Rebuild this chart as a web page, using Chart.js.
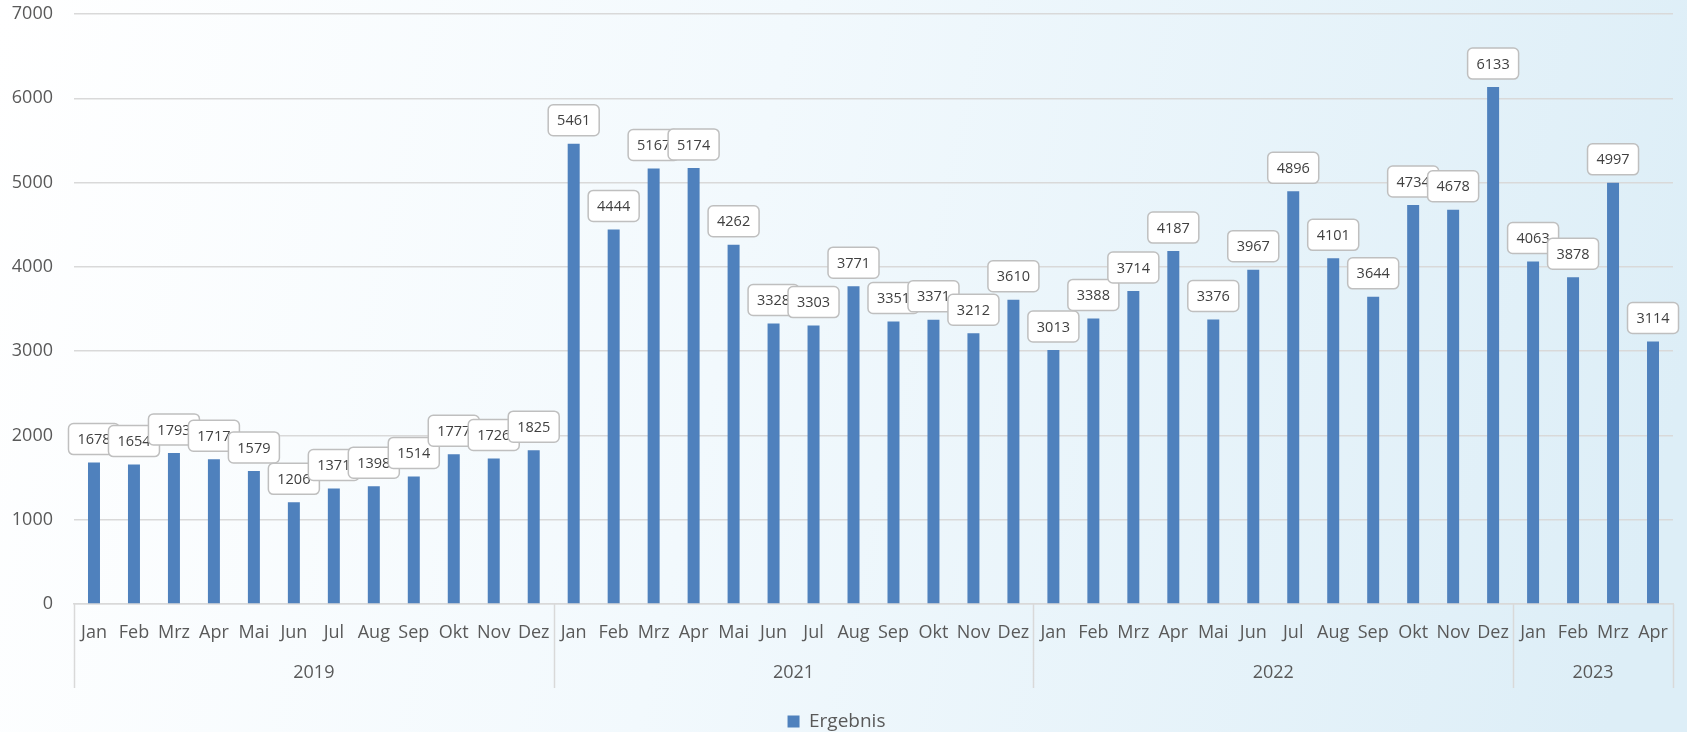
<!DOCTYPE html>
<html>
<head>
<meta charset="utf-8">
<script src="https://cdn.jsdelivr.net/npm/chart.js@4.4.0/dist/chart.umd.min.js"></script>
<style>
  html, body { margin: 0; padding: 0; background: #fff; }
  #wrap { width: 1687px; height: 732px; }
</style>
</head>
<body>
<div id="wrap"><canvas id="chart" width="1687" height="732"></canvas></div>
<script>
// months and years (category axis has two levels)
const months = ["Jan","Feb","Mrz","Apr","Mai","Jun","Jul","Aug","Sep","Okt","Nov","Dez"];
const years = ["2019", "2021", "2022", "2023"];
const monthsPerYear = [12, 12, 12, 4];

const values2019 = [1678, 1654, 1793, 1717, 1579, 1206, 1371, 1398, 1514, 1777, 1726, 1825];
const values2021 = [5461, 4444, 5167, 5174, 4262, 3328, 3303, 3771, 3351, 3371, 3212, 3610];
const values2022 = [3013, 3388, 3714, 4187, 3376, 3967, 4896, 4101, 3644, 4734, 4678, 6133];
const values2023 = [4063, 3878, 4997, 3114];

const yTicks = [0, 1000, 2000, 3000, 4000, 5000, 6000, 7000];

let labels = [];
monthsPerYear.forEach(n => { labels = labels.concat(months.slice(0, n)); });
const values = [].concat(values2019, values2021, values2022, values2023);

const font = "'Open Sans', 'Noto Sans', sans-serif";
const textColor = "#595959";
const gridColor = "#d9d9d9";
const axisBottom = 604;
const padBottom = -9;

// background gradient
const bgPlugin = {
  id: 'bg',
  beforeDraw(chart) {
    const c = chart.ctx;
    const g = c.createLinearGradient(0, 0, chart.width, chart.height * 0.5);
    g.addColorStop(0, '#ffffff');
    g.addColorStop(0.45, '#f2f9fd');
    g.addColorStop(1, '#ddeef7');
    c.save();
    c.fillStyle = g;
    c.fillRect(0, 0, chart.width, chart.height);
    c.restore();
  }
};

// year row + separators under the month labels
const groupAxis = {
  id: 'groupAxis',
  afterDraw(chart) {
    const c = chart.ctx;
    const x = chart.scales.x;
    const area = chart.chartArea;
    const half = (x.getPixelForValue(1) - x.getPixelForValue(0)) / 2;
    c.save();
    c.strokeStyle = gridColor;
    c.lineWidth = 1.5;
    let start = 0;
    const edges = [area.left];
    monthsPerYear.forEach((n, i) => {
      const l = x.getPixelForValue(start) - half;
      const r = x.getPixelForValue(start + n - 1) + half;
      edges.push(r);
      c.fillStyle = textColor;
      c.font = "18px " + font;
      c.textAlign = 'center';
      c.textBaseline = 'middle';
      c.fillText(years[i], (l + r) / 2, 673);
      start += n;
    });
    edges.forEach(e => {
      c.beginPath();
      c.moveTo(Math.round(e) + 0.5, area.bottom);
      c.lineTo(Math.round(e) + 0.5, 688);
      c.stroke();
    });
    c.restore();
  }
};

// boxed value labels above bars
const valueLabels = {
  id: 'valueLabels',
  afterDatasetsDraw(chart) {
    const c = chart.ctx;
    const meta = chart.getDatasetMeta(0);
    c.save();
    c.font = "14.5px " + font;
    c.textAlign = 'center';
    c.textBaseline = 'middle';
    meta.data.forEach((bar, i) => {
      const w = 51, h = 31;
      const bx = bar.x - w / 2;
      const by = bar.y - 8 - h;
      c.beginPath();
      c.roundRect(bx, by, w, h, 5);
      c.fillStyle = '#ffffff';
      c.fill();
      c.lineWidth = 1.5;
      c.strokeStyle = '#bfbfbf';
      c.stroke();
      c.fillStyle = '#404040';
      c.fillText(String(values[i]), bar.x, by + h / 2 + 1);
    });
    c.restore();
  }
};

const ctx = document.getElementById('chart').getContext('2d');
const chart = new Chart(ctx, {
  type: 'bar',
  data: {
    labels: labels,
    datasets: [{
      label: 'Ergebnis',
      data: values,
      backgroundColor: '#4f81bd',
      borderWidth: 0,
      categoryPercentage: 1,
      barPercentage: 0.3
    }]
  },
  options: {
    responsive: false,
    animation: false,
    layout: { padding: { top: 14, right: 14, left: 0, bottom: padBottom } },
    plugins: {
      tooltip: { enabled: false },
      legend: {
        position: 'bottom',
        labels: {
          color: textColor,
          font: { family: font, size: 19 },
          boxWidth: 12,
          boxHeight: 12,
          padding: 0
        }
      }
    },
    scales: {
      x: {
        grid: { display: false },
        border: { display: true, color: gridColor, width: 1.5 },
        ticks: {
          color: textColor,
          font: { family: font, size: 18 },
          padding: 10,
          maxRotation: 0,
          autoSkip: false
        },
        afterFit(scale) {
          scale.height = scale.chart.height - axisBottom - scale.chart.legend.height - padBottom;
        }
      },
      y: {
        min: 0,
        max: 7000,
        afterBuildTicks(scale) {
          scale.ticks = yTicks.map(v => ({ value: v }));
        },
        grid: { color: gridColor, lineWidth: 1.5, drawTicks: false },
        border: { display: false },
        ticks: {
          color: textColor,
          font: { family: font, size: 18 },
          padding: 21,
          callback: v => String(v)
        },
        afterFit(scale) {
          scale.width = 74;
          scale.paddingTop = 0;
          scale.paddingBottom = 0;
        }
      }
    }
  },
  plugins: [bgPlugin, groupAxis, valueLabels]
});
</script>
</body>
</html>
